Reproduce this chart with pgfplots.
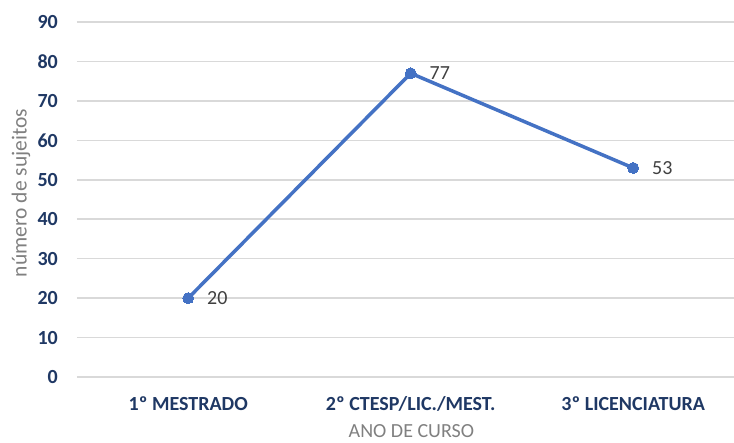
\documentclass[border=0pt]{standalone}
\usepackage{pgfplots}
\pgfplotsset{compat=1.18}
\usepackage{fontspec}
\setmainfont{Carlito}
\definecolor{navy}{HTML}{1F3864}
\definecolor{lineblue}{HTML}{4472C4}
\definecolor{gridgray}{HTML}{D9D9D9}
\definecolor{labgray}{HTML}{808080}
\definecolor{datgray}{HTML}{404040}
\begin{document}
\begin{tikzpicture}[x=1pt,y=1pt]
\useasboundingbox (-77,-66) rectangle (657,377);
\begin{axis}[
  at={(0,0)}, anchor=south west,
  scale only axis, width=657pt, height=355pt,
  xmin=-0.5, xmax=2.453, ymin=0, ymax=90,
  ytick={0,10,...,90},
  xtick={0,1,2},
  xticklabels={1º MESTRADO, 2º CTESP/LIC./MEST., 3º LICENCIATURA},
  axis line style={draw=none},
  ymajorgrids, grid style={color=gridgray, line width=1.5pt},
  major tick style={draw=none},
  /pgf/number format/assume math mode=true,
  yticklabel style={font=\fontsize{20}{24}\selectfont\bfseries, text=navy, inner sep=0pt, anchor=east, xshift=-19pt},
  xticklabel style={font=\fontsize{20}{24}\selectfont\bfseries, text=navy, inner sep=0pt, anchor=north, yshift=-19pt},
  xlabel={ANO DE CURSO},
  xlabel style={font=\fontsize{20}{24}\selectfont, text=labgray, at={(rel axis cs:0.509,0)}, anchor=north, inner sep=0pt, yshift=-47pt},
  ylabel={número de sujeitos},
  ylabel style={font=\fontsize{21.5}{24}\selectfont, text=labgray, at={(rel axis cs:0,0.518)}, anchor=center, inner sep=0pt, rotate=0, yshift=56pt},
  clip=false,
]
\addplot[color=lineblue, line width=3.5pt, mark=*, mark size=5.5pt, mark options={fill=lineblue, draw=lineblue, line width=0pt},
  nodes near coords, nodes near coords style={font=\fontsize{20}{24}\selectfont, text=datgray, anchor=west, inner sep=0pt, xshift=19pt, yshift=0pt}]
  coordinates {(0,20) (1,77) (2,53)};
\end{axis}
\end{tikzpicture}
\end{document}
